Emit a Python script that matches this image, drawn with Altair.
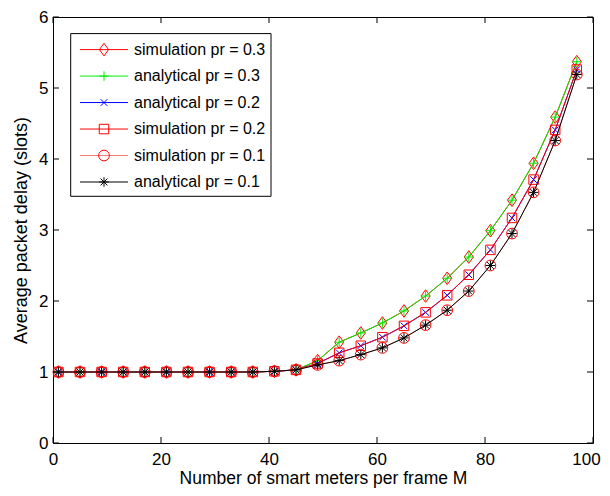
import altair as alt
import pandas as pd

# ---------------- data ----------------
M_values = [1, 5, 9, 13, 17, 21, 25, 29, 33, 37, 41, 45, 49,
            53, 57, 61, 65, 69, 73, 77, 81, 85, 89, 93, 97]
delay_pr03 = [1.0, 1.0, 1.0, 1.0, 1.0, 1.0, 1.0, 1.0, 1.0, 1.0, 1.01, 1.03, 1.16,
              1.42, 1.55, 1.69, 1.86, 2.07, 2.32, 2.62, 2.99, 3.42, 3.94, 4.59, 5.37]
delay_pr02 = [1.0, 1.0, 1.0, 1.0, 1.0, 1.0, 1.0, 1.0, 1.0, 1.0, 1.01, 1.03, 1.12,
              1.27, 1.37, 1.49, 1.65, 1.84, 2.08, 2.37, 2.72, 3.17, 3.71, 4.41, 5.26]
delay_pr01 = [1.0, 1.0, 1.0, 1.0, 1.0, 1.0, 1.0, 1.0, 1.0, 1.0, 1.01, 1.03, 1.10,
              1.16, 1.245, 1.34, 1.48, 1.66, 1.87, 2.14, 2.50, 2.95, 3.53, 4.26, 5.19]

series_names = ["simulation pr = 0.3", "analytical pr = 0.3", "analytical pr = 0.2",
                "simulation pr = 0.2", "simulation pr = 0.1", "analytical pr = 0.1"]
series_values = [delay_pr03, delay_pr03, delay_pr02, delay_pr02, delay_pr01, delay_pr01]

x_ticks = [0, 20, 40, 60, 80, 100]
y_ticks = [0, 1, 2, 3, 4, 5, 6]

# ---------------- styles ----------------
DIAMOND = "M0,-1L0.72,0L0,1L-0.72,0Z"
PLUS = "M-1,0H1M0,-1V1"
XMARK = "M-1,-1L1,1M-1,1L1,-1"
STAR = "M-1,0H1M0,-1V1M-0.72,-0.72L0.72,0.72M-0.72,0.72L0.72,-0.72"
styles = {
    "simulation pr = 0.3": dict(line="#ff0000", mark="#ff0000", shape=DIAMOND, size=160),
    "analytical pr = 0.3": dict(line="#00ee00", mark="#00ee00", shape=PLUS, size=90),
    "analytical pr = 0.2": dict(line="#0000ff", mark="#0000ff", shape=XMARK, size=45),
    "simulation pr = 0.2": dict(line="#ff0000", mark="#ff0000", shape="square", size=90),
    "simulation pr = 0.1": dict(line="#f47a7a", mark="#ff0000", shape="circle", size=115),
    "analytical pr = 0.1": dict(line="#000000", mark="#000000", shape=STAR, size=90),
}

FONT = "Liberation Sans"
W, H = 540, 426

rows = []
for name, vals in zip(series_names, series_values):
    for m, d in zip(M_values, vals):
        rows.append({"M": m, "delay": d, "series": name})
df = pd.DataFrame(rows)

xscale = alt.Scale(domain=[0, 100], nice=False, zero=False)
yscale = alt.Scale(domain=[0, 6], nice=False)

x_enc = alt.X("M:Q", scale=xscale, axis=alt.Axis(
    values=x_ticks, title="Number of smart meters per frame M", ticks=False,
    domain=False, grid=False, labelFlush=False, labelFontSize=17, labelPadding=8,
    labelOffset={"condition": {"test": "datum.value == 100", "value": -7}, "value": 0},
    titleFontSize=17.5, titleFontWeight="normal", titlePadding=2, labelFont=FONT,
    titleFont=FONT, labelColor="black", titleColor="black"))
y_enc = alt.Y("delay:Q", scale=yscale, axis=alt.Axis(
    values=y_ticks, format="d", title="Average packet delay (slots)", ticks=False,
    domain=False, grid=False, labelFontSize=17, labelPadding=5,
    titleFontSize=18, titleFontWeight="normal", titlePadding=8, labelFont=FONT,
    titleFont=FONT, labelColor="black", titleColor="black"))

data_layers = []
for name in series_names:
    st = styles[name]
    base = alt.Chart(df).transform_filter(alt.datum.series == name)
    data_layers.append(base.mark_line(color=st["line"], strokeWidth=1).encode(x=x_enc, y=y_enc))
    data_layers.append(base.mark_point(shape=st["shape"], size=st["size"], filled=False,
                                       color=st["mark"], strokeWidth=1, opacity=1)
                       .encode(x=x_enc, y=y_enc))

# inward ticks on all four sides
xt = pd.DataFrame({"M": x_ticks})
yt = pd.DataFrame({"delay": y_ticks})
TL = 6
tick_layers = [
    alt.Chart(xt).mark_rule(color="black", strokeWidth=1).encode(x=x_enc, y=alt.value(H), y2=alt.value(H - TL)),
    alt.Chart(xt).mark_rule(color="black", strokeWidth=1).encode(x=x_enc, y=alt.value(0), y2=alt.value(TL)),
    alt.Chart(yt).mark_rule(color="black", strokeWidth=1).encode(y=y_enc, x=alt.value(0), x2=alt.value(TL)),
    alt.Chart(yt).mark_rule(color="black", strokeWidth=1).encode(y=y_enc, x=alt.value(W), x2=alt.value(W - TL)),
]

main = alt.layer(*(data_layers + tick_layers))

# ---------------- legend ----------------
leg_df = pd.DataFrame({"series": series_names})
leg_y = alt.Y("series:N", scale=alt.Scale(type="point", domain=series_names,
                                          range=[32.6, 165], padding=0), axis=None)
legend_layers = [
    alt.Chart(alt.Data(values=[{"a": 0}])).mark_rect(fill="white", stroke="black", strokeWidth=1)
    .encode(x=alt.value(17.7), x2=alt.value(218), y=alt.value(16.6), y2=alt.value(179.3))
]
for name in series_names:
    st = styles[name]
    b = alt.Chart(leg_df).transform_filter(alt.datum.series == name)
    legend_layers.append(b.mark_rule(color=st["line"], strokeWidth=1)
                         .encode(y=leg_y, x=alt.value(27), x2=alt.value(75)))
    legend_layers.append(b.mark_point(shape=st["shape"], size=st["size"], filled=False,
                                      color=st["mark"], strokeWidth=1, opacity=1)
                         .encode(y=leg_y, x=alt.value(51)))
    legend_layers.append(b.mark_text(align="left", baseline="middle", fontSize=16, font=FONT,
                                     color="black")
                         .encode(y=leg_y, x=alt.value(81), text="series:N"))
legend = alt.layer(*legend_layers)

chart = alt.layer(main, legend).resolve_scale(y="independent").properties(
    width=W, height=H,
    autosize=alt.AutoSizeParams(type="none"),
    padding={"left": 45, "top": 9, "right": 9, "bottom": 45},
    background="white",
).configure_view(stroke="black", strokeWidth=1)

chart.save("out.html", embed_options={"renderer": "svg", "actions": False})
